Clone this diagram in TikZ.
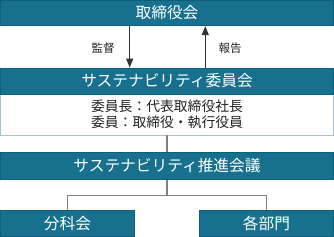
\documentclass[tikz,border=0pt]{standalone}
\usepackage{fontspec}
\setmainfont{Noto Sans CJK JP}
\usetikzlibrary{arrows.meta}
\definecolor{tealfill}{HTML}{17708D}
\definecolor{tealline}{HTML}{0F5F7A}
\definecolor{bodyline}{HTML}{A3C4D0}
\definecolor{linegray}{HTML}{808080}
\definecolor{arrgray}{HTML}{333333}
\definecolor{txt}{HTML}{222222}
\begin{document}
\begin{tikzpicture}[x=1pt,y=-1pt,
  hbox/.style={draw=tealline,line width=0.8pt,fill=tealfill,text=white,inner sep=0pt,font=\fontsize{15.7}{18}\selectfont},
  bodybox/.style={draw=bodyline,line width=0.8pt,fill=white,text=txt,inner sep=0pt,align=center,font=\fontsize{13.8}{16.5}\selectfont},
  conn/.style={draw=linegray,line width=1.5pt},
  arr/.style={draw=arrgray,line width=1pt,-{Triangle[width=7pt,length=9pt]}},
  lbl/.style={text=txt,inner sep=0pt,font=\fontsize{11.5}{13}\selectfont}]
\useasboundingbox (0,0) rectangle (334,237);
\node[hbox,minimum width=333pt,minimum height=25.5pt] (top) at (167,13) {取締役会};
\node[bodybox,minimum width=333pt,minimum height=41pt] (body) at (167,114.5) {委員長：代表取締役社長\\委員：取締役・執行役員};
\node[hbox,minimum width=333pt,minimum height=26pt] (comm) at (167,81) {サステナビリティ委員会};
\node[hbox,minimum width=333pt,minimum height=26.5pt] (promo) at (167,166) {サステナビリティ推進会議};
\node[hbox,minimum width=134.5pt,minimum height=26.5pt] (bunka) at (67.5,223.5) {分科会};
\node[hbox,minimum width=134.5pt,minimum height=26.5pt] (kakubu) at (266.5,223.5) {各部門};
\draw[arr] (top.south -| 129.7,0) -- (comm.north -| 129.7,0);
\draw[arr] (comm.north -| 205.3,0) -- (top.south -| 205.3,0);
\node[lbl] (kansa) at (103,48) {監督};
\node[lbl] (hokoku) at (230,48) {報告};
\draw[conn] (body.south) -- (promo.north);
\draw[conn] (promo.south) -- ++(0,16) -| (bunka.north);
\draw[conn] (promo.south) ++(0,16) -| (kakubu.north);
\end{tikzpicture}
\end{document}
